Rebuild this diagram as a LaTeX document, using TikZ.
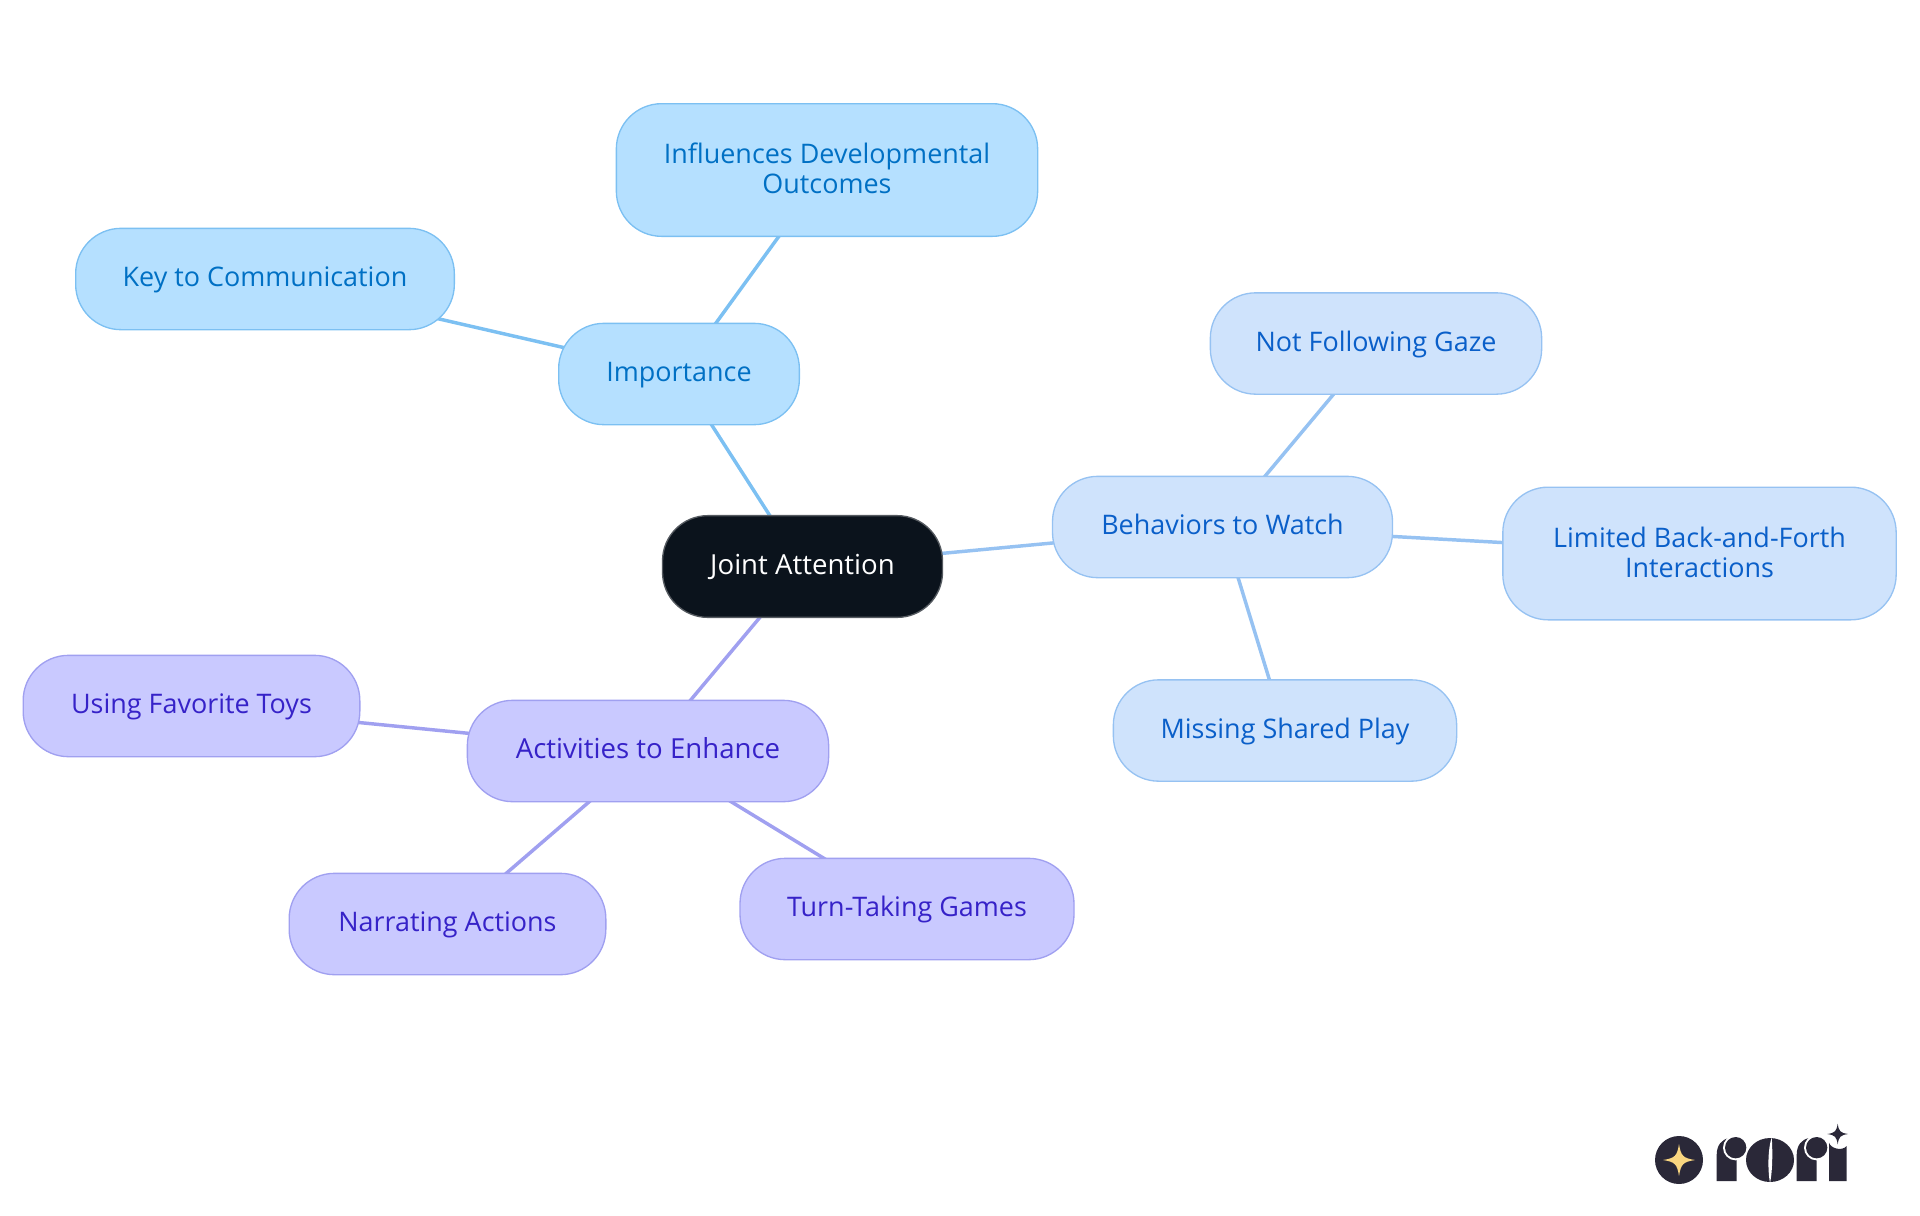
\documentclass[tikz,border=0pt]{standalone}
\usepackage{fontspec}
\setmainfont{Open Sans}
\usetikzlibrary{backgrounds}
\definecolor{impfill}{HTML}{B5E0FF}
\definecolor{impline}{HTML}{7CC0F2}
\definecolor{imptext}{HTML}{0070C4}
\definecolor{behfill}{HTML}{CFE3FC}
\definecolor{behline}{HTML}{96C2F2}
\definecolor{behtext}{HTML}{0A5FC9}
\definecolor{actfill}{HTML}{C9C9FF}
\definecolor{actline}{HTML}{A0A0F0}
\definecolor{acttext}{HTML}{3622C8}
\definecolor{rootfill}{HTML}{0B131C}
\definecolor{rootline}{HTML}{555A60}
\definecolor{logodark}{HTML}{2A2838}
\definecolor{logostar}{HTML}{F9D680}
\tikzset{
  mapbox/.style={rounded corners=34pt,inner sep=0pt,align=center,line width=1pt,
    font=\fontsize{20.2}{22.5}\selectfont},
  oneline/.style={text height=15pt,text depth=3.6pt},
  widetext/.style={font=\fontsize{20.7}{22.5}\selectfont},
  rootbox/.style={mapbox,fill=rootfill,draw=rootline,text=white},
  impbox/.style={mapbox,fill=impfill,draw=impline,text=imptext},
  behbox/.style={mapbox,fill=behfill,draw=behline,text=behtext},
  actbox/.style={mapbox,fill=actfill,draw=actline,text=acttext},
  impedge/.style={draw=impline,line width=2.6pt},
  behedge/.style={draw=behline,line width=2.6pt},
  actedge/.style={draw=actline,line width=2.6pt},
  logoshape/.style={fill=logodark,draw=none},
  logogap/.style={fill=white,draw=none},
}
\newcommand{\fourstar}[3]{% centre x, centre y, arm
  (#1-#3,#2) .. controls (#1-0.25*#3,#2-0.12*#3) and (#1-0.12*#3,#2-0.25*#3) .. (#1,#2-#3)
  .. controls (#1+0.12*#3,#2-0.25*#3) and (#1+0.25*#3,#2-0.12*#3) .. (#1+#3,#2)
  .. controls (#1+0.25*#3,#2+0.12*#3) and (#1+0.12*#3,#2+0.25*#3) .. (#1,#2+#3)
  .. controls (#1-0.12*#3,#2+0.25*#3) and (#1-0.25*#3,#2+0.12*#3) .. (#1-#3,#2) -- cycle}
\begin{document}
\begin{tikzpicture}[x=0.75pt,y=-0.75pt]
\useasboundingbox (0,0) rectangle (1920,1215);
\node[rootbox,oneline,widetext,minimum width=210pt,minimum height=76.3pt] (root) at (802.5,566.5) {Joint Attention};
\node[impbox,oneline,minimum width=180.5pt,minimum height=76pt] (imp) at (679,374) {Importance};
\node[impbox,minimum width=316pt,minimum height=99.5pt] (infl) at (827,170) {\raisebox{2pt}{Influences Developmental}\\\raisebox{2pt}{Outcomes}};
\node[impbox,oneline,minimum width=284pt,minimum height=76pt] (key) at (265,279) {Key to Communication};
\node[behbox,oneline,minimum width=255pt,minimum height=76pt] (beh) at (1222.5,527) {Behaviors to Watch};
\node[behbox,oneline,minimum width=248.5pt,minimum height=76pt] (gaze) at (1376,343.5) {Not Following Gaze};
\node[behbox,minimum width=295pt,minimum height=99.5pt] (lim) at (1699.5,553.5) {\raisebox{1.5pt}{Limited Back-and-Forth}\\\raisebox{1.5pt}{Interactions}};
\node[behbox,oneline,minimum width=257.5pt,minimum height=76pt] (miss) at (1285,730.5) {Missing Shared Play};
\node[actbox,oneline,widetext,minimum width=271pt,minimum height=76pt] (act) at (648,751) {Activities to Enhance};
\node[actbox,oneline,minimum width=252.5pt,minimum height=76pt] (toys) at (191.5,706) {Using Favorite Toys};
\node[actbox,oneline,minimum width=237.5pt,minimum height=76pt] (narr) at (447.5,924) {Narrating Actions};
\node[actbox,oneline,minimum width=250.5pt,minimum height=76pt] (turn) at (907,909) {Turn-Taking Games};
\begin{scope}[on background layer]
\path[impedge] (root.center) -- (imp.center);
\path[impedge] (imp.center) -- (infl.center);
\path[impedge] (imp.center) -- (key.center);
\path[behedge] (root.center) -- (beh.center);
\path[behedge] (beh.center) -- (gaze.center);
\path[behedge] (beh.center) -- (lim.center);
\path[behedge] (beh.center) -- (miss.center);
\path[actedge] (root.center) -- (act.center);
\path[actedge] (act.center) -- (toys.center);
\path[actedge] (act.center) -- (narr.center);
\path[actedge] (act.center) -- (turn.center);
\end{scope}
% logo, in units of a third of a pixel
\begin{scope}[shift={(1620,1100)},x=0.25pt,y=-0.25pt]
\fill[logoshape] (177,180) circle[radius=72];
\fill[logostar] \fourstar{177}{180}{48};
% first r
\fill[logoshape] (290,243) -- (290,165) .. controls (290,135) and (305,118) .. (328,114) -- (350,150) -- (350,243) -- cycle;
\fill[logogap] (347,143) circle[radius=38];
\fill[logoshape] (347,143) circle[radius=32];
% o
\fill[logoshape] (450,180) ellipse[x radius=72,y radius=66];
\fill[logogap] (455,112) .. controls (443,150) and (443,210) .. (450,250) .. controls (458,210) and (458,150) .. (455,112) -- cycle;
% second r
\fill[logoshape] (530,243) -- (530,165) .. controls (530,135) and (545,118) .. (568,114) -- (590,150) -- (590,243) -- cycle;
\fill[logogap] (590,143) circle[radius=38];
\fill[logoshape] (590,143) circle[radius=32];
% i
\fill[logoshape] (627,243) -- (627,128) .. controls (632,145) and (665,155) .. (680,138) -- (680,243) -- cycle;
\fill[logoshape] \fourstar{653}{102}{31};
\end{scope}
\end{tikzpicture}
\end{document}
